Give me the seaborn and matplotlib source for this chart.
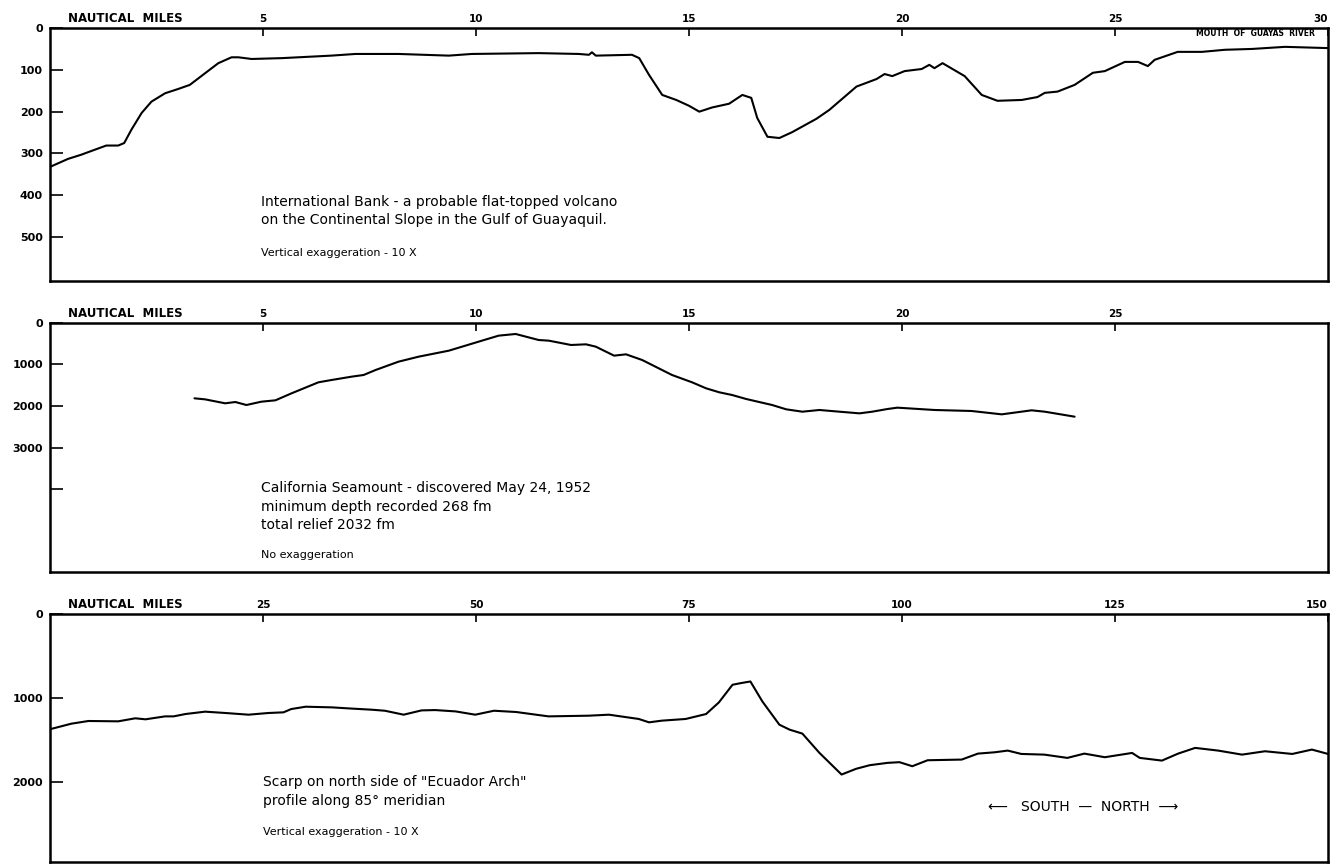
import numpy as np
import pandas as pd
import matplotlib
matplotlib.use('Agg')
import matplotlib.pyplot as plt
import seaborn as sns

# International Bank profile (nautical miles, depth in fathoms)
bank_nm = [0.0, 0.42, 0.73, 1.05, 1.32, 1.6, 1.74, 1.91, 2.15, 2.38, 2.7, 3.0, 3.28, 3.64,
           3.95, 4.26, 4.42, 4.73, 5.44, 6.6, 7.17, 8.18, 9.36, 9.9, 11.47, 12.41, 12.65,
           12.72, 12.81, 13.66, 13.83, 14.06, 14.37, 14.7, 15.0, 15.24, 15.54, 15.94, 16.25,
           16.46, 16.6, 16.84, 17.12, 17.42, 17.99, 18.29, 18.93, 19.4, 19.59, 19.77, 20.06,
           20.46, 20.64, 20.76, 20.95, 21.47, 21.87, 22.24, 22.81, 23.18, 23.35, 23.65, 24.05,
           24.48, 24.76, 25.23, 25.54, 25.77, 25.93, 26.47, 27.04, 27.58, 28.22, 28.99, 30.0]
bank_fm = [332, 313, 303, 291, 281, 281, 275, 243, 203, 176, 156, 146, 136, 108,
           84, 70, 70, 74, 72, 66, 62, 62, 66, 62, 60, 62, 64,
           58, 66, 64, 72, 112, 160, 172, 186, 200, 190, 181, 160,
           167, 215, 260, 263, 249, 217, 196, 140, 122, 110, 115, 103,
           98, 88, 96, 84, 115, 160, 174, 172, 165, 155, 152, 136,
           107, 103, 81, 81, 91, 76, 57, 57, 52, 50, 45, 48]

# California Seamount profile
sea_nm = [3.39, 3.64, 4.11, 4.35, 4.61, 4.96, 5.29, 5.67, 6.3, 6.61, 7.08, 7.36, 7.64, 8.18,
          8.65, 9.36, 10.06, 10.53, 10.93, 11.47, 11.71, 12.23, 12.58, 12.81, 13.24, 13.52,
          13.9, 14.6, 15.07, 15.4, 15.71, 16.01, 16.34, 16.95, 17.28, 17.66, 18.06, 18.53,
          19.0, 19.3, 19.66, 19.89, 20.76, 21.63, 22.34, 23.04, 23.35, 24.05]
sea_fm = [1815, 1840, 1935, 1904, 1976, 1896, 1863, 1694, 1429, 1373, 1293, 1253, 1133, 932,
          812, 667, 450, 305, 265, 410, 426, 530, 514, 570, 787, 755,
          892, 1253, 1429, 1574, 1670, 1735, 1831, 1976, 2080, 2137, 2096, 2137,
          2177, 2137, 2072, 2040, 2096, 2120, 2201, 2104, 2137, 2257]

# Ecuador Arch scarp profile
arch_nm = [0.1, 2.5, 4.5, 8.0, 10.0, 11.2, 13.5, 14.5, 15.9, 18.2, 20.6, 23.3, 25.6, 27.4,
           28.3, 30.0, 33.1, 35.0, 37.8, 39.3, 41.5, 43.6, 45.2, 47.6, 49.9, 52.1, 54.7,
           58.5, 63.2, 65.6, 69.1, 70.3, 71.8, 74.6, 77.0, 78.5, 80.1, 81.1, 82.2, 83.6,
           85.6, 86.8, 88.3, 90.3, 92.9, 94.6, 96.2, 98.3, 99.7, 101.2, 103.0, 107.0, 108.9,
           110.9, 112.4, 114.0, 116.7, 119.4, 121.4, 123.8, 125.3, 127.0, 127.9, 130.5,
           132.4, 134.4, 137.1, 139.9, 142.6, 145.8, 148.1, 150.0]
arch_fm = [1368, 1305, 1273, 1277, 1241, 1253, 1218, 1218, 1190, 1162, 1178, 1198, 1178, 1170,
           1131, 1103, 1111, 1123, 1139, 1151, 1198, 1147, 1143, 1159, 1198, 1151, 1166,
           1218, 1210, 1198, 1249, 1289, 1269, 1249, 1190, 1052, 842, 822, 803, 1040,
           1317, 1376, 1423, 1652, 1910, 1842, 1799, 1771, 1763, 1811, 1740, 1732, 1661,
           1645, 1625, 1665, 1673, 1712, 1661, 1704, 1680, 1653, 1712, 1744,
           1661, 1593, 1625, 1673, 1633, 1665, 1613, 1665]

sns.set_style('ticks')
plt.rcParams['font.family'] = ['DejaVu Sans']
plt.rcParams['text.color'] = 'black'
plt.rcParams['xtick.color'] = 'black'
plt.rcParams['ytick.color'] = 'black'

fig = plt.figure(figsize=(13.35, 8.65), dpi=100)


def draw_profile(rect, nm, fm, xmax, xticks, xlabels, ymax, yticks, ylabels):
    ax = fig.add_axes(rect)
    df = pd.DataFrame({'nm': nm, 'fm': fm})
    sns.lineplot(data=df, x='nm', y='fm', sort=False, estimator=None,
                 color='black', linewidth=1.5, ax=ax)
    ax.set_xlim(0, xmax)
    ax.set_ylim(ymax, 0)
    ax.xaxis.tick_top()
    ax.set_xticks(xticks)
    ax.set_xticklabels(xlabels, fontsize=7.5, fontweight='bold')
    ax.set_yticks(yticks)
    ax.set_yticklabels(ylabels, fontsize=8, fontweight='bold')
    ax.tick_params(axis='x', direction='in', length=6, width=1.2, pad=3)
    ax.tick_params(axis='y', direction='in', length=9, width=1.2, pad=5)
    # the label at the right-hand corner sits inside the frame edge
    if xticks[-1] == xmax:
        ax.get_xticklabels()[-1].set_horizontalalignment('right')
    ax.set_xlabel('')
    ax.set_ylabel('')
    for s in ax.spines.values():
        s.set_visible(True)
        s.set_linewidth(1.8)
        s.set_color('black')
    ax.text(0.014, 1.012, 'NAUTICAL  MILES', transform=ax.transAxes, fontsize=8.5,
            fontweight='bold', ha='left', va='bottom')
    return ax


ax1 = draw_profile([0.0375, 0.6751, 0.9573, 0.2925], bank_nm, bank_fm, 30,
                   [5, 10, 15, 20, 25, 30], ['5', '10', '15', '20', '25', '30'],
                   605, [0, 100, 200, 300, 400, 500], ['0', '100', '200', '300', '400', '500'])
ax1.text(29.7, 12, 'MOUTH  OF  GUAYAS  RIVER', fontsize=5.5, fontweight='bold',
         ha='right', va='center')
ax1.text(4.95, 417, 'International Bank - a probable flat-topped volcano', fontsize=10, va='center')
ax1.text(4.95, 460, 'on the Continental Slope in the Gulf of Guayaquil.', fontsize=10, va='center')
ax1.text(4.95, 537, 'Vertical exaggeration - 10 X', fontsize=8, va='center')

ax2 = draw_profile([0.0375, 0.3387, 0.9573, 0.2879], sea_nm, sea_fm, 30,
                   [5, 10, 15, 20, 25], ['5', '10', '15', '20', '25'],
                   6000, [0, 1000, 2000, 3000, 4000], ['0', '1000', '2000', '3000', ''])
ax2.text(4.95, 3980, 'California Seamount - discovered May 24, 1952', fontsize=10, va='center')
ax2.text(4.95, 4430, 'minimum depth recorded 268 fm', fontsize=10, va='center')
ax2.text(4.95, 4870, 'total relief 2032 fm', fontsize=10, va='center')
ax2.text(4.95, 5590, 'No exaggeration', fontsize=8, va='center')

ax3 = draw_profile([0.0375, 0.0035, 0.9573, 0.2867], arch_nm, arch_fm, 150,
                   [25, 50, 75, 100, 125, 150], ['25', '50', '75', '100', '125', '150'],
                   2950, [0, 1000, 2000], ['0', '1000', '2000'])
ax3.text(25, 2000, 'Scarp on north side of "Ecuador Arch"', fontsize=10, va='center')
ax3.text(25, 2220, 'profile along 85° meridian', fontsize=10, va='center')
ax3.text(25, 2590, 'Vertical exaggeration - 10 X', fontsize=8, va='center')
ax3.text(121.3, 2300, '⟵   SOUTH  —  NORTH  ⟶', fontsize=10, ha='center', va='center')

fig.savefig('out.png', dpi=100)
